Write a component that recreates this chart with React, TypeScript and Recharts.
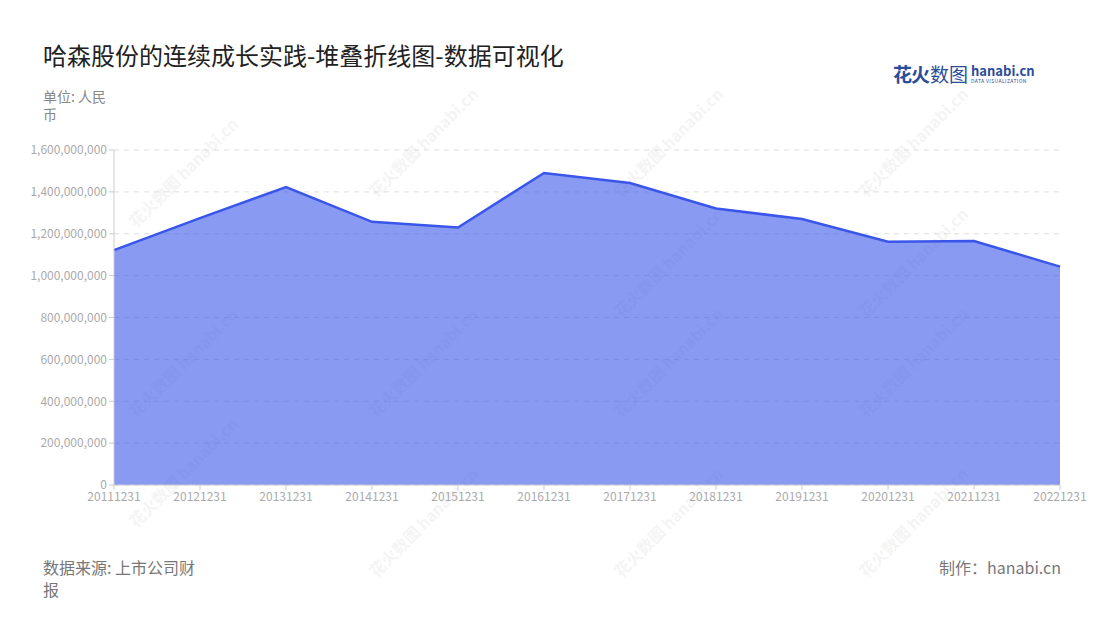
import React from "react";
import {
  AreaChart,
  Area,
  XAxis,
  YAxis,
  CartesianGrid,
} from "recharts";

const years = [
  "20111231", "20121231", "20131231", "20141231", "20151231", "20161231",
  "20171231", "20181231", "20191231", "20201231", "20211231", "20221231",
];
const revenue = [
  1122000000, 1275000000, 1423000000, 1257000000, 1230000000, 1490000000,
  1442000000, 1321000000, 1270000000, 1162000000, 1165000000, 1043000000,
];
const yTicks = [0, 200000000, 400000000, 600000000, 800000000, 1000000000, 1200000000, 1400000000, 1600000000];

const data = years.map((d, i) => ({ date: d, value: revenue[i] }));

const FONT = '"Noto Sans CJK SC", "Noto Sans", sans-serif';
const BLUE = "#3a56ea";

const marks = [
  [160, 360], [400, 140], [645, 140], [890, 140], [400, 360], [645, 360], [890, 360],
  [160, 470], [400, 520], [645, 520], [890, 520], [160, 170], [645, 260], [890, 260],
];

export default function App() {
  return (
    <div
      style={{
        position: "absolute",
        left: 0,
        top: 0,
        width: 1100,
        height: 620,
        background: "#fff",
        fontFamily: FONT,
        overflow: "hidden",
      }}
    >
      {marks.map(([x, y], i) => (
        <div
          key={i}
          style={{
            position: "absolute",
            left: x - 50,
            top: y - 10,
            transform: "rotate(-45deg)",
            color: "#000",
            opacity: 0.04,
            fontSize: 16,
            fontWeight: 700,
            whiteSpace: "nowrap",
            pointerEvents: "none",
          }}
        >
          花火数图 hanabi.cn
        </div>
      ))}
      <div style={{ position: "absolute", left: 43, top: 37, fontSize: 24, color: "#222" }}>
        哈森股份的连续成长实践-堆叠折线图-数据可视化
      </div>
      <div style={{ position: "absolute", left: 43, top: 87, width: 70, fontSize: 14, lineHeight: "18px", color: "#888" }}>
        单位: 人民币
      </div>
      <div style={{ position: "absolute", left: 893, top: 60, display: "flex", alignItems: "center" }}>
        <span style={{ fontSize: 19, fontWeight: 700, color: "#2b4c9a", letterSpacing: -1 }}>花火</span>
        <span style={{ fontSize: 19, color: "#2b4c9a", marginLeft: 1 }}>数图</span>
        <span style={{ display: "flex", flexDirection: "column", marginLeft: 3 }}>
          <span style={{ fontSize: 13, fontWeight: 700, color: "#2b4c9a", lineHeight: "15px" }}>hanabi.cn</span>
          <span style={{ fontSize: 5, color: "#2b4c9a", lineHeight: "6px", letterSpacing: 0.4 }}>DATA VISUALIZATION</span>
        </span>
      </div>
      <div style={{ position: "absolute", left: 43, top: 556, width: 162, fontSize: 16, lineHeight: "22px", color: "#777" }}>
        数据来源: 上市公司财报
      </div>
      <div style={{ position: "absolute", right: 39, top: 556, fontSize: 16, lineHeight: "22px", color: "#777" }}>
        制作：hanabi.cn
      </div>
      <div style={{ position: "absolute", left: 0, top: 0 }}>
        <AreaChart
          width={1100}
          height={620}
          data={data}
          margin={{ top: 150, right: 40, left: 34, bottom: 105 }}
        >
          <CartesianGrid vertical={false} stroke="#dddddd" strokeDasharray="5 5" />
          <XAxis
            dataKey="date"
            height={30}
            tick={{ fill: "#aaa", fontSize: 12, fontFamily: FONT }}
            axisLine={{ stroke: "#ccc" }}
            tickLine={{ stroke: "#ccc" }}
            tickSize={5}
            interval={0}
          />
          <YAxis
            width={80}
            domain={[0, 1600000000]}
            ticks={yTicks}
            tickFormatter={(v: number) => v.toLocaleString("en-US")}
            tick={{ fill: "#aaa", fontSize: 12, fontFamily: FONT }}
            axisLine={{ stroke: "#ccc" }}
            tickLine={{ stroke: "#ccc" }}
            tickSize={5}
          />
          <Area
            type="linear"
            dataKey="value"
            stroke={BLUE}
            strokeWidth={2.5}
            fill={BLUE}
            fillOpacity={0.6}
            isAnimationActive={false}
            dot={false}
            activeDot={false}
          />
        </AreaChart>
      </div>
    </div>
  );
}
